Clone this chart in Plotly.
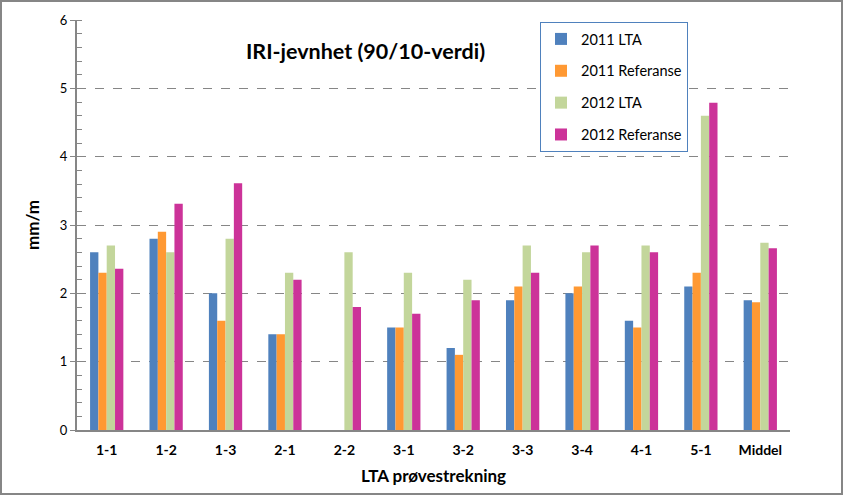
import plotly.graph_objects as go

categories = ["1-1", "1-2", "1-3", "2-1", "2-2", "3-1", "3-2", "3-3", "3-4", "4-1", "5-1", "Middel"]
lta_2011 = [2.6, 2.8, 2.0, 1.4, None, 1.5, 1.2, 1.9, 2.0, 1.6, 2.1, 1.90]
ref_2011 = [2.3, 2.9, 1.6, 1.4, None, 1.5, 1.1, 2.1, 2.1, 1.5, 2.3, 1.87]
lta_2012 = [2.7, 2.6, 2.8, 2.3, 2.6, 2.3, 2.2, 2.7, 2.6, 2.7, 4.6, 2.74]
ref_2012 = [2.36, 3.31, 3.61, 2.2, 1.8, 1.7, 1.9, 2.3, 2.7, 2.6, 4.79, 2.66]
series_names = ["2011 LTA", "2011 Referanse", "2012 LTA", "2012 Referanse"]
colors = ["#4F81BD", "#FF9933", "#C3D69B", "#CC3399"]

FONT = "Lato, Carlito, Liberation Sans, sans-serif"
fig = go.Figure()
for i, (name, vals, col) in enumerate(zip(series_names, [lta_2011, ref_2011, lta_2012, ref_2012], colors)):
    fig.add_trace(go.Bar(x=categories, y=vals, name=name, marker_color=col,
                         marker_line_width=0, legendgroup=f"g{i}"))

W, H = 843, 495
L, R, T, B = 77, 53, 20, 65
pw, ph = W - L - R, H - T - B

fig.update_layout(
    width=W, height=H,
    margin=dict(l=L, r=R, t=T, b=B),
    paper_bgcolor="white", plot_bgcolor="white",
    barmode="group", bargap=0.44, bargroupgap=0,
    font=dict(family=FONT, color="black"),
    showlegend=True,
    legend=dict(x=(540 - L) / pw, y=(430 - 22) / ph, xanchor="left", yanchor="top",
                bordercolor="#4F81BD", borderwidth=1, bgcolor="white",
                font=dict(size=14.5, family=FONT), tracegroupgap=10,
                itemwidth=30),
    xaxis=dict(showline=True, linecolor="#868686", linewidth=2, ticks="",
               tickfont=dict(size=14, family=FONT, weight="bold"),
               ticklabelstandoff=6,
               title=dict(text="<b>LTA prøvestrekning</b>", font=dict(size=17, family=FONT), standoff=13)),
    yaxis=dict(range=[0, 6], dtick=1, showline=True, linecolor="#868686", linewidth=2,
               ticks="outside", ticklen=5, tickcolor="#868686",
               tickfont=dict(size=13, family=FONT),
               showgrid=True, gridcolor="#868686", griddash="dash", gridwidth=1,
               zeroline=False,
               minor=dict(dtick=0.2, ticks="inside", ticklen=5, tickcolor="#868686", showgrid=False),
               title=dict(text="<b>mm/m</b>", font=dict(size=17, family=FONT), standoff=16)),
)

fig.add_annotation(text="<b>IRI-jevnhet (90/10-verdi)</b>", xref="paper", yref="paper",
                   x=(365 - L) / pw, y=(430 - 51) / ph, xanchor="center", yanchor="middle",
                   showarrow=False, font=dict(size=21.5, family=FONT, color="black"))

fig.add_shape(type="rect", xref="paper", yref="paper",
              x0=(1 - L) / pw, x1=(W - 1 - L) / pw,
              y0=(430 - (H - 1)) / ph, y1=(430 - 1) / ph,
              line=dict(color="#868686", width=2), layer="above")

fig.write_html("out.html", config={"displayModeBar": False},
               post_script="document.body.style.margin='0';document.body.style.overflow='hidden';")
